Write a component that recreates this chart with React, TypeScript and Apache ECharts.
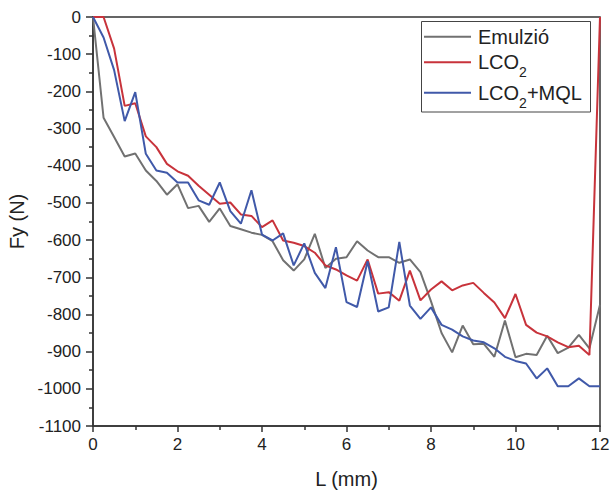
import React, { useEffect, useRef } from "react";
import * as echarts from "echarts";

const L = [
  0, 0.25, 0.5, 0.75, 1, 1.25, 1.5, 1.75, 2, 2.25, 2.5, 2.75, 3, 3.25, 3.5, 3.75,
  4, 4.25, 4.5, 4.75, 5, 5.25, 5.5, 5.75, 6, 6.25, 6.5, 6.75, 7, 7.25, 7.5, 7.75,
  8, 8.25, 8.5, 8.75, 9, 9.25, 9.5, 9.75, 10, 10.25, 10.5, 10.75, 11, 11.25, 11.5, 11.75, 12,
];

const emulzio = [
  0, -271, -323, -375, -367, -413, -441, -478, -450, -514, -508, -551, -515, -562, -571, -580,
  -586, -603, -654, -682, -652, -583, -675, -650, -646, -603, -628, -646, -646, -661, -652, -686,
  -765, -850, -902, -830, -880, -879, -914, -816, -915, -906, -909, -857, -904, -889, -855, -891, -774,
];

const lco2 = [
  0, 0, -85, -239, -232, -321, -350, -395, -415, -427, -454, -478, -502, -499, -531, -535,
  -565, -547, -601, -607, -616, -634, -668, -679, -695, -709, -652, -744, -740, -763, -682, -762,
  -733, -711, -735, -722, -715, -742, -768, -810, -745, -828, -849, -859, -875, -888, -884, -909, 0,
];

const lco2mql = [
  0, -55, -143, -280, -202, -368, -413, -419, -445, -445, -493, -505, -445, -522, -556, -466,
  -585, -601, -582, -668, -609, -688, -729, -619, -767, -780, -657, -792, -781, -605, -776, -812,
  -781, -828, -841, -859, -870, -875, -891, -914, -925, -932, -972, -945, -993, -993, -972, -993, -993,
];

const seriesNames = ["Emulzió", "LCO₂", "LCO₂+MQL"];
const seriesColors = ["#717171", "#c8333b", "#4059a9"];

const FONT = "'Liberation Sans', Arial, sans-serif";

function measure(text: string, size: number): number {
  const c = document.createElement("canvas").getContext("2d");
  if (!c) return text.length * size * 0.6;
  c.font = `${size}px 'Liberation Sans', Arial, sans-serif`;
  return c.measureText(text).width;
}

export default function App() {
  const ref = useRef<HTMLDivElement>(null);

  useEffect(() => {
    if (!ref.current) return;
    const chart = echarts.init(ref.current, undefined, { renderer: "svg" });
    const values = [emulzio, lco2, lco2mql];

    const textX = 478;
    const lineX1 = 424;
    const lineX2 = 471;
    const rowY = [36.7, 62.2, 92.7];
    const subDy = 10;
    const wLCO = measure("LCO", 20);
    const wSub = measure("2", 14);
    const txt = (t: string, x: number, y: number, size: number) => ({
      type: "text",
      x,
      y,
      silent: true,
      style: {
        text: t,
        fontSize: size,
        fontFamily: FONT,
        fill: "#222",
        align: "left",
        verticalAlign: "middle",
      },
      z: 101,
    });

    const legendGraphics: any[] = [
      {
        type: "rect",
        shape: { x: 421.5, y: 21.5, width: 169, height: 90.5 },
        style: { fill: "#fff", stroke: "#444", lineWidth: 1 },
        silent: true,
        z: 100,
      },
      ...rowY.map((y, i) => ({
        type: "line",
        shape: { x1: lineX1, y1: y, x2: lineX2, y2: y },
        style: { stroke: seriesColors[i], lineWidth: 2 },
        silent: true,
        z: 101,
      })),
      txt("Emulzió", textX, rowY[0], 20),
      txt("LCO", textX, rowY[1], 20),
      txt("2", textX + wLCO, rowY[1] + subDy, 14),
      txt("LCO", textX, rowY[2], 20),
      txt("2", textX + wLCO, rowY[2] + subDy, 14),
      txt("+MQL", textX + wLCO + wSub, rowY[2], 20),
    ];

    chart.setOption({
      animation: false,
      textStyle: { fontFamily: FONT },
      grid: {
        left: 93,
        right: 10,
        top: 17,
        bottom: 64,
        show: true,
        borderColor: "#333",
        borderWidth: 1.5,
        backgroundColor: "transparent",
        outerBoundsMode: "none",
        containLabel: false,
      },
      graphic: legendGraphics,
      xAxis: {
        type: "value",
        min: 0,
        max: 12,
        interval: 2,
        name: "L (mm)",
        nameLocation: "middle",
        nameGap: 43,
        nameTextStyle: { fontSize: 20, color: "#222", fontFamily: FONT },
        axisLine: { show: true, onZero: false, lineStyle: { color: "#333", width: 1.5 } },
        axisTick: { show: true, length: 6, lineStyle: { color: "#333", width: 1.5 } },
        minorTick: { show: true, splitNumber: 2, length: 4, lineStyle: { color: "#333", width: 1.5 } },
        splitLine: { show: false },
        axisLabel: { fontSize: 17, color: "#222", margin: 10, fontFamily: FONT },
      },
      yAxis: {
        type: "value",
        min: -1100,
        max: 0,
        interval: 100,
        name: "Fy (N)",
        nameLocation: "middle",
        nameGap: 65,
        nameTextStyle: { fontSize: 20, color: "#222", fontFamily: FONT },
        axisLine: { show: true, onZero: false, lineStyle: { color: "#333", width: 1.5 } },
        axisTick: { show: true, length: 7, lineStyle: { color: "#333", width: 1.5 } },
        minorTick: { show: true, splitNumber: 2, length: 4, lineStyle: { color: "#333", width: 1.5 } },
        splitLine: { show: false },
        axisLabel: {
          fontSize: 17,
          color: "#222",
          margin: 12,
          fontFamily: FONT,
          formatter: (v: number) => String(v),
        },
      },
      series: seriesNames.map((name, i) => ({
        name,
        type: "line",
        data: L.map((x, j) => [x, values[i][j]]),
        symbol: "none",
        showSymbol: false,
        color: seriesColors[i],
        lineStyle: { color: seriesColors[i], width: 2 },
        clip: true,
      })),
    });
    return () => chart.dispose();
  }, []);

  return <div ref={ref} style={{ width: 610, height: 490, position: "absolute", left: 0, top: 0 }} />;
}
